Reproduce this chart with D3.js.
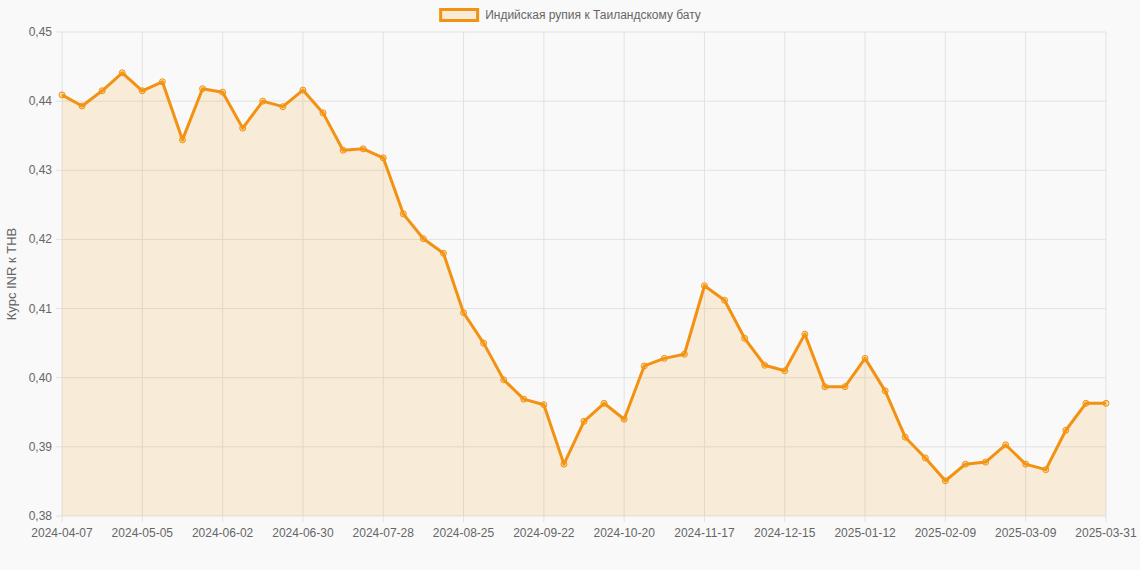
<!DOCTYPE html>
<html><head><meta charset="utf-8">
<script src="https://cdn.jsdelivr.net/npm/d3@7"></script>
<style>body{margin:0;background:#f9f9f9;font-family:"Liberation Sans",Arial,sans-serif}</style>
</head><body><svg id="c" width="1140" height="570"></svg>
<script>
const seriesName = "Индийская рупия к Таиландскому бату";
const yTitle = "Курс INR к THB";
const dates = ["2024-04-07","2024-04-14","2024-04-21","2024-04-28","2024-05-05","2024-05-12","2024-05-19","2024-05-26","2024-06-02","2024-06-09","2024-06-16","2024-06-23","2024-06-30","2024-07-07","2024-07-14","2024-07-21","2024-07-28","2024-08-04","2024-08-11","2024-08-18","2024-08-25","2024-09-01","2024-09-08","2024-09-15","2024-09-22","2024-09-29","2024-10-06","2024-10-13","2024-10-20","2024-10-27","2024-11-03","2024-11-10","2024-11-17","2024-11-24","2024-12-01","2024-12-08","2024-12-15","2024-12-22","2024-12-29","2025-01-05","2025-01-12","2025-01-19","2025-01-26","2025-02-02","2025-02-09","2025-02-16","2025-02-23","2025-03-02","2025-03-09","2025-03-16","2025-03-23","2025-03-30","2025-03-31"];
const values = [0.4409,0.4393,0.4415,0.4441,0.4415,0.4428,0.4344,0.4418,0.4413,0.4361,0.4400,0.4392,0.4416,0.4383,0.4329,0.4331,0.4318,0.4237,0.4201,0.4180,0.4094,0.4050,0.3997,0.3969,0.3961,0.3875,0.3937,0.3963,0.3940,0.4017,0.4028,0.4034,0.4133,0.4112,0.4057,0.4018,0.4010,0.4063,0.3987,0.3987,0.4028,0.3981,0.3914,0.3884,0.3851,0.3875,0.3878,0.3903,0.3875,0.3867,0.3924,0.3963,0.3963];
const yTicks = [0.38,0.39,0.40,0.41,0.42,0.43,0.44,0.45];
const xTickIdx = [0,4,8,12,16,20,24,28,32,36,40,44,48,52];

const svg = d3.select("#c");
const L=62,R=1106,T=32,B=516;
const x = d3.scalePoint().domain(dates).range([L,R]);
const y = d3.scaleLinear().domain([0.38,0.45]).range([B,T]);
const fmt = v => d3.format(".2f")(v).replace(".",",");
const g = svg.append("g");
// grid
g.selectAll(".hg").data(yTicks).join("line").attr("x1",L-6).attr("x2",R).attr("y1",d=>y(d)).attr("y2",d=>y(d)).attr("stroke","#e2e2e2");
g.selectAll(".vg").data(xTickIdx).join("line").attr("y1",T).attr("y2",B+6).attr("x1",i=>x(dates[i])).attr("x2",i=>x(dates[i])).attr("stroke","#e2e2e2");
// area + line
const area = d3.area().x(d=>x(d[0])).y0(B).y1(d=>y(d[1]));
const line = d3.line().x(d=>x(d[0])).y(d=>y(d[1]));
const pts = dates.map((d,i)=>[d,values[i]]);
g.append("path").datum(pts).attr("d",area).attr("fill","rgba(243,156,18,0.15)");
g.append("path").datum(pts).attr("d",line).attr("fill","none").attr("stroke","#f39212").attr("stroke-width",3).attr("stroke-linejoin","round");
g.selectAll("circle").data(pts).join("circle").attr("cx",d=>x(d[0])).attr("cy",d=>y(d[1])).attr("r",3).attr("fill","rgba(243,156,18,0.3)").attr("stroke","#f39212").attr("stroke-width",1);
// axes labels
g.selectAll(".yl").data(yTicks).join("text").attr("x",L-10).attr("y",d=>y(d)+4).attr("text-anchor","end").attr("font-size",12).attr("fill","#666").text(fmt);
g.selectAll(".xl").data(xTickIdx).join("text").attr("x",i=>x(dates[i])).attr("y",B+21).attr("text-anchor","middle").attr("font-size",12).attr("fill","#666").text(i=>dates[i]);
svg.append("text").attr("transform",`translate(16,${(T+B)/2}) rotate(-90)`).attr("text-anchor","middle").attr("font-size",13).attr("fill","#666").text(yTitle);
// legend
const lg = svg.append("g");
const lt = lg.append("text").attr("y",19).attr("font-size",12).attr("fill","#666").text(seriesName);
const w = lt.node().getComputedTextLength();
const tot = 40+6+w, sx = 570-tot/2;
lg.append("rect").attr("x",sx+1.5).attr("y",9.5).attr("width",37).attr("height",11).attr("fill","rgba(243,156,18,0.15)").attr("stroke","#f39212").attr("stroke-width",3);
lt.attr("x",sx+46);
</script></body></html>
